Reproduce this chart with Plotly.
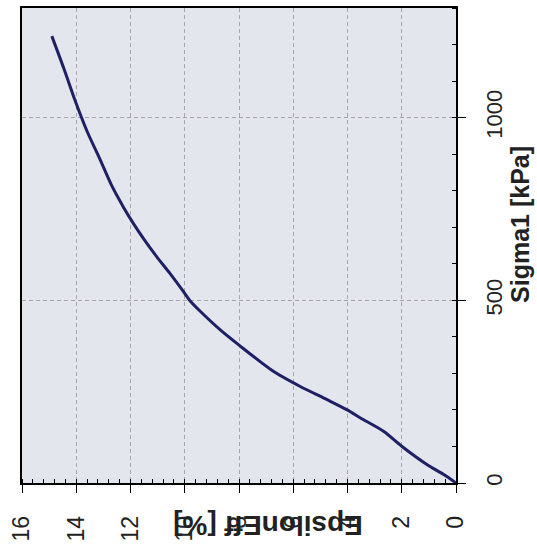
import plotly.graph_objects as go

# Data (Epsilon_eff [%] vs Sigma1 [kPa])
epsilon_eff = [0.0, 0.45, 1.06, 1.99, 2.66, 3.52, 4.01, 4.75, 5.74, 6.72,
               8.01, 8.69, 9.43, 9.80, 10.04, 10.54, 11.03, 11.52, 11.89, 12.26,
               12.70, 13.12, 13.61, 14.04, 14.47, 14.90]
sigma1 = [0, 23, 50, 100, 141, 178, 200, 228, 264, 305,
          378, 419, 470, 498, 523, 573, 619, 669, 710, 755,
          815, 885, 964, 1046, 1137, 1223]

x_ticks = [0, 2, 4, 6, 8, 10, 12, 14, 16]
y_ticks = [0, 500, 1000]
x_title = "EpsilonEff [%]"
y_title = "Sigma1 [kPa]"

FONT = "Liberation Sans, Arial, sans-serif"

fig = go.Figure()
fig.add_trace(go.Scatter(
    x=epsilon_eff, y=sigma1, mode="lines",
    line=dict(color="#1f1f66", width=3, shape="spline", smoothing=0.8),
    showlegend=False, hoverinfo="skip",
))

fig.update_xaxes(
    range=[16, 0],
    tickvals=x_ticks, ticktext=[str(v) for v in x_ticks],
    tickangle=-90,
    ticks="outside", ticklen=8, tickcolor="black", tickwidth=1,
    ticklabelstandoff=14,
    tickfont=dict(family=FONT, size=23, color="#222"),
    showline=True, linecolor="black", linewidth=1.5, mirror=True,
    showgrid=True, gridcolor="#a6a6a6", griddash="4px,3px", gridwidth=1,
    zeroline=False,
    minor=dict(dtick=0.4, ticks="inside", ticklen=4, tickcolor="black", showgrid=False),
)
fig.update_yaxes(
    range=[0, 1300], side="right",
    tickvals=y_ticks, ticktext=[str(v) for v in y_ticks],
    tickangle=-90,
    ticks="outside", ticklen=8, tickcolor="black", tickwidth=1,
    ticklabelstandoff=10,
    tickfont=dict(family=FONT, size=22, color="#222"),
    showline=True, linecolor="black", linewidth=1.5, mirror=True,
    showgrid=True, gridcolor="#a6a6a6", griddash="4px,3px", gridwidth=1,
    zeroline=False,
    minor=dict(dtick=100, ticks="inside", ticklen=4, tickcolor="black", showgrid=False),
)

fig.add_annotation(
    text=f"<b>{y_title}</b>", xref="paper", yref="paper",
    x=1.147, y=0.545, xanchor="center", yanchor="middle",
    textangle=-90, showarrow=False,
    font=dict(family=FONT, size=25, color="#222"),
)
fig.add_annotation(
    text=f"<b>{x_title}</b>", xref="paper", yref="paper",
    x=0.5655, y=-0.088, xanchor="center", yanchor="middle",
    textangle=180, showarrow=False,
    font=dict(family=FONT, size=28, color="#222"),
)

fig.update_layout(
    width=537, height=555,
    margin=dict(l=22, r=81, t=6, b=72),
    paper_bgcolor="white", plot_bgcolor="#e3e6ec",
)

fig.write_html("out.html")
